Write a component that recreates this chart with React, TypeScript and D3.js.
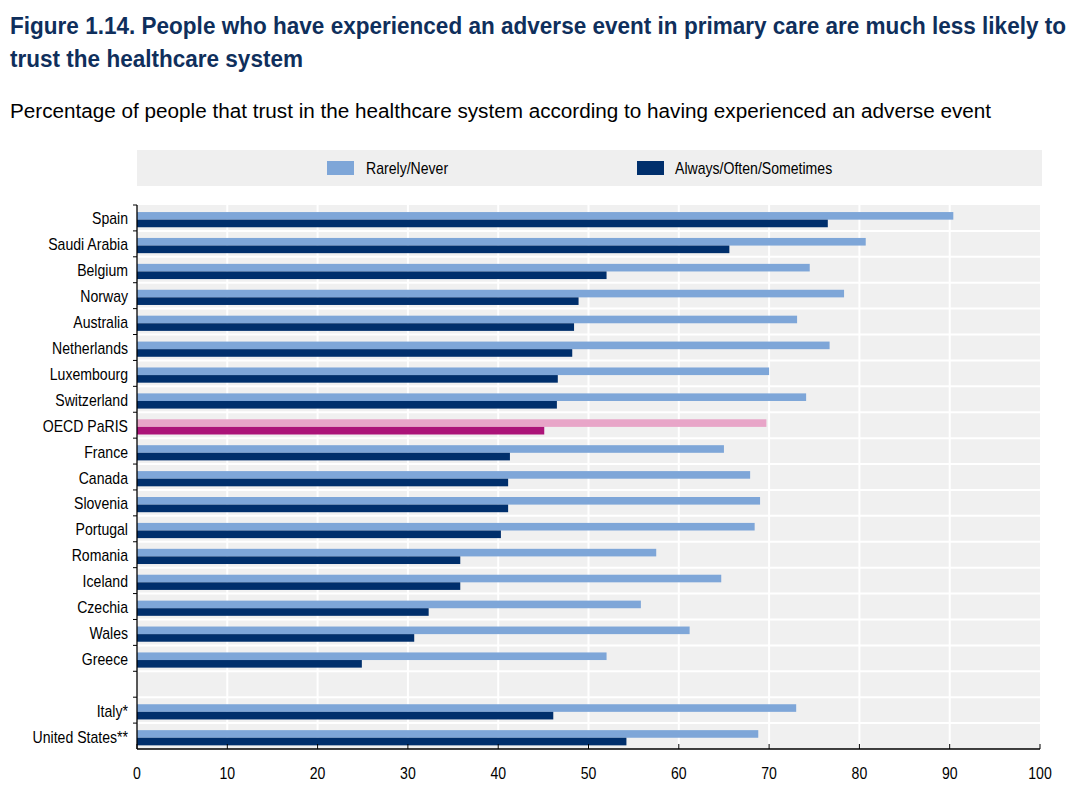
import React from "react";
import * as d3 from "d3";

const countries = [
  "Spain", "Saudi Arabia", "Belgium", "Norway", "Australia", "Netherlands",
  "Luxembourg", "Switzerland", "OECD PaRIS", "France", "Canada", "Slovenia",
  "Portugal", "Romania", "Iceland", "Czechia", "Wales", "Greece", "",
  "Italy*", "United States**",
];
const rarelyNever = [
  90.4, 80.7, 74.5, 78.3, 73.1, 76.7, 70.0, 74.1, 69.7, 65.0, 67.9, 69.0,
  68.4, 57.5, 64.7, 55.8, 61.2, 52.0, null, 73.0, 68.8,
];
const alwaysOften = [
  76.5, 65.6, 52.0, 48.9, 48.4, 48.2, 46.6, 46.5, 45.1, 41.3, 41.1, 41.1,
  40.3, 35.8, 35.8, 32.3, 30.7, 24.9, null, 46.1, 54.2,
];
const xTicks = [0, 10, 20, 30, 40, 50, 60, 70, 80, 90, 100];
const seriesNames = ["Rarely/Never", "Always/Often/Sometimes"];

const W = 1090;
const H = 786;
const LEFT = 137;
const RIGHT = 1040;
const TOP = 205;
const BOTTOM = 749;

const LIGHT = "#7EA6D8";
const DARK = "#002F6C";
const PINK_LIGHT = "#E8A5C8";
const PINK_DARK = "#AC1479";
const TITLE = "#0F2F5C";
const FONT = "'Liberation Sans', Arial, sans-serif";
const SX = 0.88;

function NText({ x, y, anchor = "start", size = 16, children, fill = "#000", weight = "normal" }: any) {
  return (
    <g transform={`translate(${x},${y}) scale(${SX},1)`}>
      <text x={0} y={0} textAnchor={anchor} fontFamily={FONT} fontSize={size} fill={fill} fontWeight={weight}>
        {children}
      </text>
    </g>
  );
}

export default function App() {
  const x = d3.scaleLinear().domain([0, 100]).range([LEFT, RIGHT]);
  const keys = countries.map((c, i) => `${i}`);
  const y = d3.scaleBand().domain(keys).range([TOP, BOTTOM]).padding(0);
  const bw = y.bandwidth();
  const barH = 7.6;

  return (
    <svg width={W} height={H} style={{ display: "block", position: "absolute", left: 0, top: 0 }}>
      <rect x={0} y={0} width={W} height={H} fill="#fff" />
      <g transform="translate(10,34) scale(0.86,1)">
        <text x={0} y={0} fontFamily={FONT} fontWeight="bold" fontSize={24} fill={TITLE}
          textLength={1056 / 0.86} lengthAdjust="spacingAndGlyphs">
          Figure 1.14. People who have experienced an adverse event in primary care are much less likely to
        </text>
      </g>
      <g transform="translate(10,67) scale(0.86,1)">
        <text x={0} y={0} fontFamily={FONT} fontWeight="bold" fontSize={24} fill={TITLE}
          textLength={293 / 0.86} lengthAdjust="spacingAndGlyphs">
          trust the healthcare system
        </text>
      </g>
      <g transform="translate(10,118) scale(0.88,1)">
        <text x={0} y={0} fontFamily={FONT} fontSize={21} fill="#000"
          textLength={981 / 0.88} lengthAdjust="spacingAndGlyphs">
          Percentage of people that trust in the healthcare system according to having experienced an adverse event
        </text>
      </g>

      {/* legend */}
      <rect x={137} y={150} width={905} height={36} fill="#EFEFEF" />
      <rect x={327} y={161} width={27} height={14} fill={LIGHT} />
      <NText x={366} y={174}>{seriesNames[0]}</NText>
      <rect x={637} y={161} width={27} height={14} fill={DARK} />
      <NText x={675} y={174}>{seriesNames[1]}</NText>

      {/* plot bg */}
      <rect x={LEFT} y={TOP} width={RIGHT - LEFT} height={BOTTOM - TOP} fill="#F0F0F0" />
      {xTicks.slice(1, -1).map((t) => (
        <line key={`vg${t}`} x1={x(t)} x2={x(t)} y1={TOP} y2={BOTTOM} stroke="#fff" strokeWidth={2} />
      ))}
      {keys.slice(1).map((k) => (
        <line key={`hg${k}`} x1={LEFT} x2={RIGHT} y1={y(k)!} y2={y(k)!} stroke="#fff" strokeWidth={2} />
      ))}

      {/* bars */}
      {countries.map((c, i) => {
        const k = keys[i];
        const r = rarelyNever[i];
        const a = alwaysOften[i];
        if (r == null || a == null) return null;
        const isOecd = c === "OECD PaRIS";
        const y0 = y(k)! + bw / 2 - barH + 1.7;
        return (
          <g key={`b${i}`}>
            <rect x={x(0)} y={y0} width={x(r) - x(0)} height={barH} fill={isOecd ? PINK_LIGHT : LIGHT} />
            <rect x={x(0)} y={y0 + barH} width={x(a) - x(0)} height={barH} fill={isOecd ? PINK_DARK : DARK} />
          </g>
        );
      })}

      {/* axes */}
      <line x1={LEFT} x2={LEFT} y1={TOP} y2={BOTTOM} stroke="#000" strokeWidth={1.3} />
      <line x1={LEFT} x2={RIGHT} y1={BOTTOM} y2={BOTTOM} stroke="#000" strokeWidth={1.3} />
      {keys.map((k) => (
        <line key={`yt${k}`} x1={LEFT - 4} x2={LEFT} y1={y(k)!} y2={y(k)!} stroke="#000" strokeWidth={1} />
      ))}
      {xTicks.map((t) => (
        <line key={`xt${t}`} x1={x(t)} x2={x(t)} y1={BOTTOM} y2={BOTTOM - 5} stroke="#000" strokeWidth={1} />
      ))}
      {xTicks.map((t) => (
        <NText key={`xl${t}`} x={x(t)} y={779} anchor="middle">{t}</NText>
      ))}
      {countries.map((c, i) => (
        <NText key={`yl${i}`} x={128} y={y(keys[i])! + bw / 2 + 6.5} anchor="end">{c}</NText>
      ))}
    </svg>
  );
}
